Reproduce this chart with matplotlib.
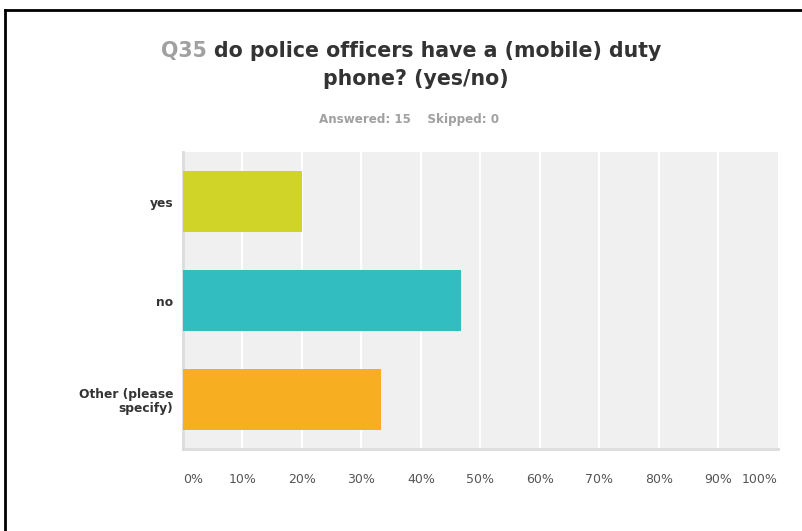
import matplotlib.pyplot as plt
from matplotlib.lines import Line2D

plt.rcParams['font.family'] = ['DejaVu Sans']

categories = ['yes', 'no', 'Other (please\nspecify)']
percent = [20.0, 46.67, 33.33]
colors = ['#d0d428', '#32bec0', '#f7af21']
ticks = [0, 10, 20, 30, 40, 50, 60, 70, 80, 90, 100]
tick_labels = ['%d%%' % t for t in ticks]

W, H = 803, 531
fig = plt.figure(figsize=(W / 100, H / 100), dpi=100)
fig.patch.set_facecolor('white')

# plot area in pixels: x 183..778, y 152..449
ax = fig.add_axes([183 / W, (H - 449) / H, 595 / W, 297 / H])
ax.set_facecolor('#f0f0f0')
ypos = list(range(len(categories)))
ax.barh(ypos, percent, height=0.625, color=colors, zorder=3)
ax.set_xlim(0, 100)
ax.set_ylim(len(categories) - 0.5, -0.5)
for t in ticks[1:-1]:
    ax.axvline(t, color='white', lw=1.6, zorder=1)

for s in ['top', 'right']:
    ax.spines[s].set_visible(False)
for s in ['left', 'bottom']:
    ax.spines[s].set_color('#dcdcdc')
    ax.spines[s].set_linewidth(2)

ax.set_yticks(ypos)
ax.set_yticklabels(categories, fontsize=8.8, fontweight='bold', color='#333333',
                   linespacing=1.1)
ax.tick_params(axis='y', length=0, pad=7)
ax.set_xticks(ticks)
ax.set_xticklabels(tick_labels, fontsize=9, color='#555555')
ax.tick_params(axis='x', length=0, pad=17)
xl = ax.get_xticklabels()
xl[0].set_ha('left')
xl[-1].set_ha('right')

# title with grey question number
fig.canvas.draw()
r = fig.canvas.get_renderer()
tsize = 14.8
y1 = 1 - 51 / H
qn = fig.text(0, y1, 'Q35 ', fontsize=tsize, fontweight='bold', color='#a0a0a0', va='center')
rest = fig.text(0, y1, 'do police officers have a (mobile) duty', fontsize=tsize,
                fontweight='bold', color='#333333', va='center')
w1 = qn.get_window_extent(r).width
w2 = rest.get_window_extent(r).width
cx = 411
x0 = cx - (w1 + w2) / 2
qn.set_x(x0 / W)
rest.set_x((x0 + w1) / W)
fig.text(416 / W, 1 - 79 / H, 'phone? (yes/no)', fontsize=tsize, fontweight='bold',
         color='#333333', ha='center', va='center')
fig.text(409 / W, 1 - 119 / H, 'Answered: 15    Skipped: 0', fontsize=8.6, fontweight='bold',
         color='#a0a0a0', ha='center', va='center')

# frame lines on top and left
fig.add_artist(Line2D([5.5 / W, 1], [1 - 9.5 / H, 1 - 9.5 / H], color='black', lw=2,
                      transform=fig.transFigure))
fig.add_artist(Line2D([5.5 / W, 5.5 / W], [0, 1 - 9.5 / H], color='black', lw=2,
                      transform=fig.transFigure))

fig.savefig('out.png', dpi=100)
